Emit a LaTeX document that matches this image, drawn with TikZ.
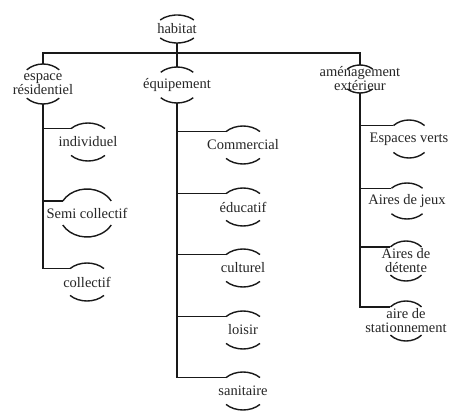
\documentclass[tikz,border=0pt]{standalone}
\usepackage{fontspec}
\setmainfont{Liberation Serif}
\newfontfamily\tmsfont{Liberation Serif}
\usetikzlibrary{calc}
% #1 name, #2 cx, #3 cy (down), #4 rx, #5 ry, #6 arc end angle, #7 text
\newcommand\cn[7]{%
  \node[lbl] (#1) at (#2,-#3) {#7};
  \coordinate (#1-in) at ($(#1.center)+(180-#6:#4 and #5)$);
  \coordinate (#1-top) at ($(#1.center)+(0,#5)$);
  \coordinate (#1-bot) at ($(#1.center)+(0,-#5)$);
  \draw[arcline] (#1-in) arc[start angle={180-#6}, end angle={#6}, x radius=#4, y radius=#5];
  \draw[arcline] ($(#1.center)+(180+#6:#4 and #5)$) arc[start angle={180+#6}, end angle={360-#6}, x radius=#4, y radius=#5];
}
\begin{document}
\begin{tikzpicture}[x=1pt,y=1pt,
  lbl/.style={inner sep=0pt, align=center, font=\tmsfont\fontsize{14.5}{14}\selectfont, text=black!85},
  arcline/.style={line width=1.4pt, black!90},
  conn/.style={line width=1.3pt, black!90}]
\useasboundingbox (0,0) rectangle (450,-414);
\fill[white] (0,0) rectangle (450,-414);
% top
\cn{hab}{177}{29}{22}{14}{40}{habitat}
\coordinate (bus) at (177,-53);
\cn{esp}{43}{84}{23}{20}{45}{espace\\résidentiel}
\cn{equ}{177}{85}{23}{18}{45}{équipement}
\cn{amen}{360}{79}{18}{14}{45}{aménagement\\extérieur}
% espace children
\cn{ind}{88}{142}{24}{19}{45}{individuel}
\cn{semi}{87}{213}{28}{24}{30}{Semi collectif}
\cn{col}{87}{282}{24}{19}{45}{collectif}
% equipement children
\cn{com}{243}{145}{24}{19}{45}{Commercial}
\cn{edu}{243}{207}{24}{19}{45}{éducatif}
\cn{cul}{243}{268}{24}{19}{45}{culturel}
\cn{loi}{243}{330}{24}{19}{45}{loisir}
\cn{san}{243}{391}{24}{19}{45}{sanitaire}
% amenagement children
\cn{ev}{409}{139}{22}{19}{45}{Espaces verts}
\cn{aj}{407}{201}{22}{18}{45}{Aires de jeux}
\cn{ad}{406}{261}{22}{20}{45}{Aires de\\détente}
\cn{as}{406}{321}{22}{20}{45}{aire de\\stationnement}
% connectors
\draw[conn] (hab-bot) -- (bus);
\draw[conn] (bus) -| (esp-top);
\draw[conn] (bus) -| (amen-top);
\draw[conn] (bus) -- (equ-top);
\foreach \c in {ind,semi,col} \draw[conn] (esp-bot) |- (\c-in);
\foreach \c in {com,edu,cul,loi,san} \draw[conn] (equ-bot) |- (\c-in);
\foreach \c in {ev,aj,ad,as} \draw[conn] (amen-bot) |- (\c-in);
\end{tikzpicture}
\end{document}
